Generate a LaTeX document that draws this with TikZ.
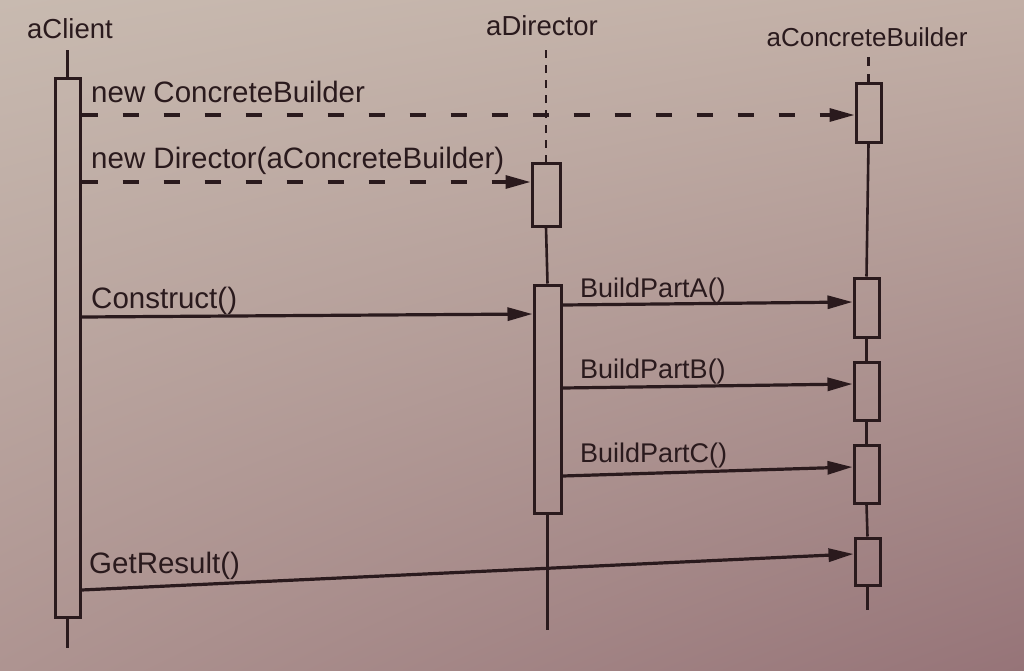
\documentclass[tikz,border=0pt]{standalone}
\usepackage{fontspec}
\setmainfont{Liberation Sans}
\usetikzlibrary{arrows.meta,shadings}
\definecolor{ink}{RGB}{42,26,29}
\definecolor{paperUL}{RGB}{200,186,176}
\definecolor{paperUR}{RGB}{194,175,166}
\definecolor{paperLL}{RGB}{174,148,145}
\definecolor{paperLR}{RGB}{150,116,120}
\tikzset{
  act/.style={draw=ink, line width=3pt, inner sep=0pt, minimum width=25pt},
  life/.style={draw=ink, line width=2.6pt},
  lifedash/.style={draw=ink, line width=2.6pt, dash pattern=on 8pt off 7pt},
  call/.style={draw=ink, line width=3.2pt, -{Triangle[length=25pt,width=13pt]}},
  create/.style={call, dash pattern=on 16pt off 25pt},
  lbl/.style={text=ink, inner sep=0pt, anchor=base west, font=\fontsize{29.5}{33}\selectfont},
  lbls/.style={lbl, font=\fontsize{27}{31}\selectfont},
  head/.style={text=ink, inner sep=0pt, anchor=base, font=\fontsize{27.5}{31}\selectfont}
}
\begin{document}
\begin{tikzpicture}[x=1pt,y=-1pt]
  % paper
  \shade[upper left=paperUL, upper right=paperUR, lower left=paperLL, lower right=paperLR]
    (0,0) rectangle (1024,670);
  \useasboundingbox (0,0) rectangle (1024,670);

  % object names
  \node[head] (hc) at (70,38) {aClient};
  \node[head] (hd) at (542,35) {aDirector};
  \node[head, font=\fontsize{26}{30}\selectfont] (hb) at (867,46) {aConcreteBuilder};

  % activation boxes
  \node[act, minimum height=539pt] (c) at (67.5,347.5) {};
  \node[act, minimum width=28pt, minimum height=63pt] (d1) at (546,194.5) {};
  \node[act, minimum width=27pt, minimum height=228pt] (d2) at (547.5,399) {};
  \node[act, minimum height=59pt] (b1) at (868.5,112.5) {};
  \node[act, minimum height=59pt] (b2) at (866.5,307.5) {};
  \node[act, minimum height=58pt] (b3) at (866.5,391) {};
  \node[act, minimum height=58pt] (b4) at (866.5,474) {};
  \node[act, minimum height=47pt] (b5) at (867.5,561.5) {};

  % lifeline ends
  \coordinate (ct) at (67.5,50);
  \coordinate (cb) at (67.5,648);
  \coordinate (dt) at (546,50);
  \coordinate (db) at (547.5,630);
  \coordinate (bt) at (868.5,57);
  \coordinate (bb) at (867.5,610);

  % lifelines
  \draw[life] (ct) -- (c.north);
  \draw[life] (c.south) -- (cb);
  \draw[lifedash] (dt) -- (d1.north);
  \draw[life] (d1.south) -- (d2.north);
  \draw[life] (d2.south) -- (db);
  \draw[lifedash, dash pattern=on 9pt off 8pt] (bt) -- (b1.north);
  \draw[life] (b1.south) -- (b2.north);
  \draw[life] (b2.south) -- (b3.north);
  \draw[life] (b3.south) -- (b4.north);
  \draw[life] (b4.south) -- (b5.north);
  \draw[life] (b5.south) -- (bb);

  % message heights
  \coordinate (y1) at (0,115);
  \coordinate (y2) at (0,182);
  \coordinate (y3s) at (0,317);
  \coordinate (y3e) at (0,314);
  \coordinate (y4s) at (0,305);
  \coordinate (y4e) at (0,302);
  \coordinate (y5s) at (0,388);
  \coordinate (y5e) at (0,384);
  \coordinate (y6s) at (0,476);
  \coordinate (y6e) at (0,467);
  \coordinate (y7s) at (0,590);
  \coordinate (y7e) at (0,554);

  % messages
  \draw[create] (c.east |- y1) -- (b1.west |- y1);
  \draw[create] (c.east |- y2) -- (d1.west |- y2);
  \draw[call] (c.east |- y3s) -- (d2.west |- y3e);
  \draw[call] (d2.east |- y4s) -- (b2.west |- y4e);
  \draw[call] (d2.east |- y5s) -- (b3.west |- y5e);
  \draw[call] (d2.east |- y6s) -- (b4.west |- y6e);
  \draw[call] (c.east |- y7s) -- (b5.west |- y7e);

  % message labels
  \node[lbl] (l1) at (91,102) {new ConcreteBuilder};
  \node[lbl] (l2) at (91,168) {new Director(aConcreteBuilder)};
  \node[lbl] (l3) at (91,308) {Construct()};
  \node[lbls] (l4) at (580,297) {BuildPartA()};
  \node[lbls] (l5) at (580,378) {BuildPartB()};
  \node[lbls] (l6) at (580,462) {BuildPartC()};
  \node[lbl] (l7) at (89,573) {GetResult()};
\end{tikzpicture}
\end{document}
